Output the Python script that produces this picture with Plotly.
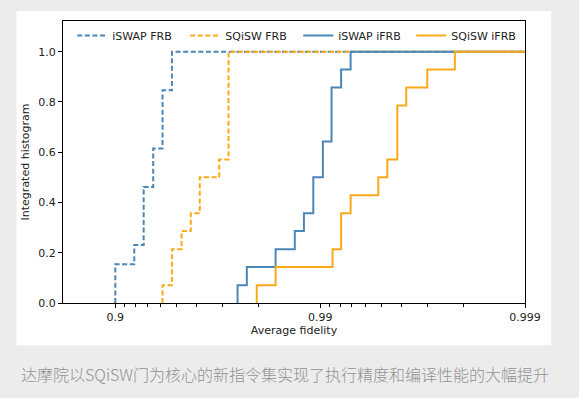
import plotly.graph_objects as go
import math

# ---- data (average fidelity at each step, cumulative fraction after step) ----
iswap_frb_f = [0.9000, 0.9192, 0.9273, 0.9347, 0.9412, 0.9471]
iswap_frb_y = [0.154, 0.231, 0.462, 0.615, 0.846, 1.0]

sqisw_frb_f = [0.9412, 0.9471, 0.9525, 0.9572, 0.9613, 0.9689, 0.9720]
sqisw_frb_y = [0.071, 0.214, 0.286, 0.357, 0.500, 0.571, 1.0]

iswap_ifrb_f = [0.9747, 0.9772, 0.9835, 0.9867, 0.9880, 0.9892, 0.9903, 0.9912, 0.9921, 0.9929]
iswap_ifrb_y = [0.071, 0.143, 0.214, 0.286, 0.357, 0.500, 0.643, 0.857, 0.929, 1.0]

sqisw_ifrb_f = [0.9796, 0.9835, 0.9913, 0.9921, 0.9929, 0.9948, 0.9953, 0.9958, 0.9962, 0.9970, 0.9978]
sqisw_ifrb_y = [0.071, 0.143, 0.214, 0.357, 0.429, 0.500, 0.571, 0.786, 0.857, 0.929, 1.0]

x_tick_vals_f = [0.9, 0.99, 0.999]
x_tick_text = ["0.9", "0.99", "0.999"]
x_minor_f = [0.91, 0.92, 0.93, 0.94, 0.95, 0.96, 0.97, 0.98,
             0.991, 0.992, 0.993, 0.994, 0.995, 0.996, 0.997, 0.998]
y_tick_vals = [0.0, 0.2, 0.4, 0.6, 0.8, 1.0]
y_tick_text = ["0.0", "0.2", "0.4", "0.6", "0.8", "1.0"]
x_left_f = 0.82
x_right_f = 0.999

caption = "达摩院以SQiSW门为核心的新指令集实现了执行精度和编译性能的大幅提升"

BLUE = "#4a86b8"
ORANGE = "#fba919"


def infid(vals):
    return [round(1 - v, 6) for v in vals]


def step_xy(f, y):
    xs = [f[0]] + list(f) + [x_right_f]
    ys = [0.0] + list(y) + [y[-1]]
    return infid(xs), ys


series = [
    ("iSWAP FRB", iswap_frb_f, iswap_frb_y, BLUE, "5px,2.6px"),
    ("SQiSW FRB", sqisw_frb_f, sqisw_frb_y, ORANGE, "5px,2.6px"),
    ("iSWAP iFRB", iswap_ifrb_f, iswap_ifrb_y, BLUE, "solid"),
    ("SQiSW iFRB", sqisw_ifrb_f, sqisw_ifrb_y, ORANGE, "solid"),
]

fig = go.Figure()
for name, f, y, col, dash in series:
    xs, ys = step_xy(f, y)
    fig.add_trace(go.Scatter(
        x=xs, y=ys, mode="lines", name=name,
        line=dict(color=col, width=2, dash=dash, shape="hv"),
        hoverinfo="skip",
    ))

FONT = "DejaVu Sans"
PL, PR, PT, PB = 62.5, 524.7, 21.0, 302.7
PW, PH = PR - PL, PB - PT


def px(x):
    return (x - PL) / PW


def py(y):
    return (PB - y) / PH


fig.update_layout(
    width=579, height=398,
    margin=dict(l=PL, r=579 - PR, t=PT, b=398 - PB),
    paper_bgcolor="#ececec",
    plot_bgcolor="white",
    font=dict(family=FONT, size=11, color="#222222"),
    showlegend=True,
    legend=dict(
        orientation="h", x=0.02, xanchor="left", y=py(21), yanchor="top",
        bgcolor="rgba(0,0,0,0)", borderwidth=0,
        font=dict(family=FONT, size=11, color="#222222"),
        entrywidth=68, entrywidthmode="pixels",
        tracegroupgap=0,
    ),
    shapes=[dict(type="rect", xref="paper", yref="paper", layer="below",
                 x0=px(16), x1=px(551), y0=py(345), y1=py(11),
                 fillcolor="white", line=dict(width=0))],
    annotations=[dict(text=caption, xref="paper", yref="paper",
                      x=px(284.5), y=py(374),
                      xanchor="center", yanchor="middle", showarrow=False,
                      font=dict(family="Noto Sans CJK SC", size=16, color="#929292",
                                weight=300))],
)

fig.update_xaxes(
    type="log", autorange=False,
    range=[math.log10(1 - x_left_f), math.log10(1 - x_right_f)],
    tickmode="array", tickvals=infid(x_tick_vals_f), ticktext=x_tick_text,
    ticks="outside", ticklen=4, tickwidth=1.2, tickcolor="black",
    minor=dict(tickmode="array", tickvals=infid(x_minor_f), ticks="outside",
               ticklen=2.5, tickwidth=1, tickcolor="black", showgrid=False),
    showline=True, linecolor="black", linewidth=1.3, mirror=True,
    showgrid=False, zeroline=False,
    title=dict(text="Average fidelity", font=dict(family=FONT, size=11, color="#222222"), standoff=2),
)
fig.update_yaxes(
    range=[0, 1.122], autorange=False,
    tickmode="array", tickvals=y_tick_vals, ticktext=y_tick_text,
    ticks="outside", ticklen=4, tickwidth=1.2, tickcolor="black",
    showline=True, linecolor="black", linewidth=1.3, mirror=True,
    showgrid=False, zeroline=False,
    title=dict(text="Integrated histogram", font=dict(family=FONT, size=11, color="#222222"), standoff=6),
)

fig.write_html("out.html", config={"displayModeBar": False},
               post_script="document.body.style.margin='0';")
